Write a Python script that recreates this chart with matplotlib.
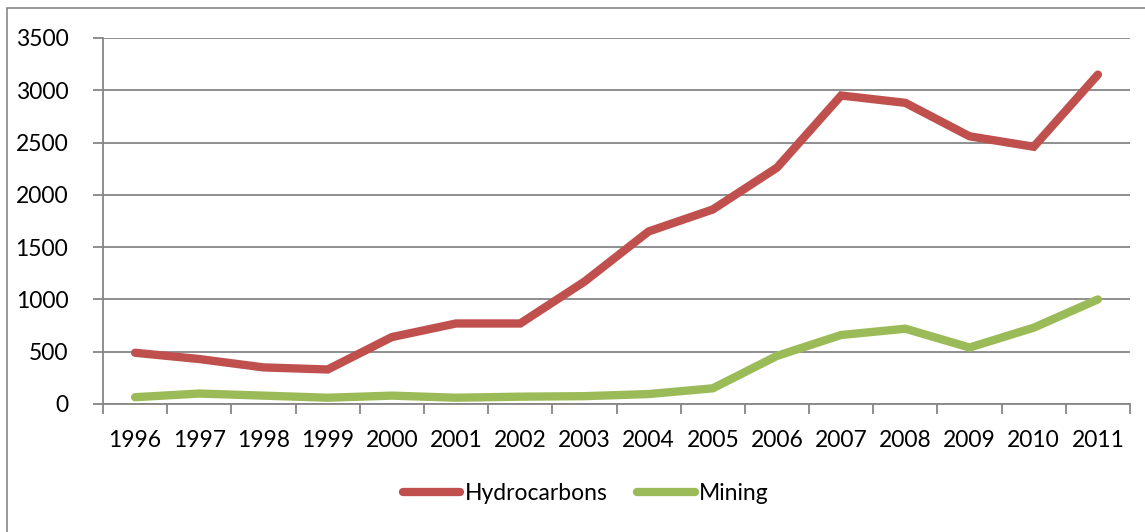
import matplotlib
matplotlib.use("Agg")
import matplotlib.pyplot as plt
from matplotlib.patches import Rectangle

years = ["1996", "1997", "1998", "1999", "2000", "2001", "2002", "2003",
         "2004", "2005", "2006", "2007", "2008", "2009", "2010", "2011"]
hydrocarbons = [490, 430, 350, 330, 640, 770, 770, 1170,
                1650, 1860, 2260, 2950, 2880, 2560, 2460, 3150]
mining = [65, 100, 80, 60, 80, 60, 70, 75,
          95, 150, 460, 660, 720, 540, 730, 1000]
yticks = [0, 500, 1000, 1500, 2000, 2500, 3000, 3500]

plt.rcParams['font.family'] = ['Lato', 'DejaVu Sans']

W, H = 1145, 532
fig = plt.figure(figsize=(W / 100, H / 100), dpi=100)
fig.patch.set_facecolor('white')
fig.patches.append(Rectangle((7 / W, -0.1), 2, 1.1 - 8 / H, transform=fig.transFigure,
                             fill=False, edgecolor='#868686', linewidth=1.2, zorder=0))

ax = fig.add_axes([103 / W, 1 - 404 / H, (1130 - 103) / W, (404 - 38) / H])
x = list(range(len(years)))
grid_c = '#868686'
red = '#C0504D'
green = '#9BBB59'

ax.plot(x, hydrocarbons, color=red, lw=6, solid_capstyle='round',
        solid_joinstyle='miter', label='Hydrocarbons', zorder=3)
ax.plot(x, mining, color=green, lw=6, solid_capstyle='round',
        solid_joinstyle='miter', label='Mining', zorder=3)

ax.set_xlim(-0.5, len(years) - 0.5)
ax.set_ylim(0, 3500)
ax.set_yticks(yticks)
ax.set_yticklabels([str(v) for v in yticks])
ax.yaxis.grid(True, color=grid_c, lw=1.3)
ax.set_axisbelow(True)

ax.set_xticks([i - 0.5 for i in range(len(years) + 1)])
ax.set_xticklabels([])
ax.set_xticks(x, minor=True)
ax.set_xticklabels(years, minor=True)
ax.tick_params(axis='x', which='minor', length=0, pad=19, labelsize=16.5, colors='black')
ax.tick_params(axis='x', which='major', length=7, width=1.3, color=grid_c, direction='out')
ax.tick_params(axis='y', length=7, width=1.3, color=grid_c, direction='out', pad=18,
               labelsize=16.5, labelcolor='black')

for s in ['top', 'right']:
    ax.spines[s].set_visible(False)
for s in ['left', 'bottom']:
    ax.spines[s].set_color(grid_c)
    ax.spines[s].set_linewidth(1.3)

leg = fig.legend(loc='center', bbox_to_anchor=(586 / W, 1 - 494 / H), ncol=2,
                 frameon=False, fontsize=16.5, handlelength=2.5, handletextpad=0.2,
                 columnspacing=1.3)
for line in leg.get_lines():
    line.set_solid_capstyle('round')

fig.savefig('out.png', dpi=100, facecolor='white')
